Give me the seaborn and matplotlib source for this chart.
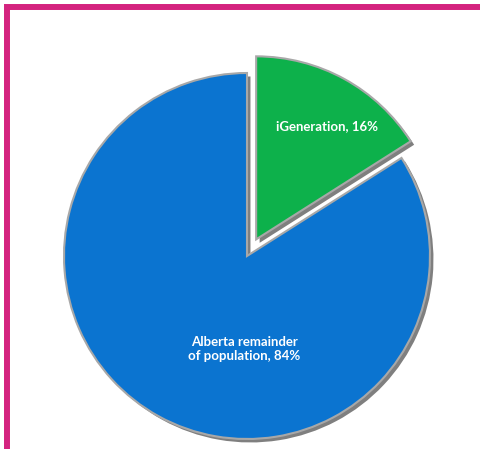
import matplotlib
matplotlib.use("Agg")
import matplotlib.pyplot as plt
import matplotlib.patheffects as pe
from matplotlib.patches import Rectangle
import seaborn as sns

categories = ["iGeneration", "Alberta remainder\nof population"]
values = [16, 84]
colors = ["#0DB14B", "#0B74D0"]

sns.set_theme(style="white")
plt.rcParams['font.family'] = ['Lato', 'DejaVu Sans']

W, H = 481, 449
fig = plt.figure(figsize=(W / 100, H / 100), dpi=100)
fig.patch.set_facecolor("white")
ax = fig.add_axes([0, 0, 1, 1])

cx, cy, R = 247, H - 256, 183
wedges, _ = ax.pie(values, colors=colors, startangle=90, counterclock=False,
                   explode=[19, 0], center=(cx, cy), radius=R,
                   wedgeprops=dict(edgecolor="#a8a8a8", linewidth=1.5))
for w in wedges:
    w.set_path_effects([pe.SimplePatchShadow(offset=(2.5, -2.5), shadow_rgbFace="black", alpha=0.5),
                        pe.Normal()])

ax.set_xlim(0, W)
ax.set_ylim(0, H)
ax.set_aspect("equal")
ax.axis("off")

labels = [f"{c}, {v}%" for c, v in zip(categories, values)]
ax.text(cx + 80, cy + 130, labels[0], color="white", fontsize=9.5, fontweight="bold",
        ha="center", va="center")
ax.text(cx - 3, cy - 93, labels[1], color="white", fontsize=9.5, fontweight="bold",
        ha="center", va="center", linespacing=1.3)

fig.patches.append(Rectangle((7.5 / W, (H - 460) / H), (490 - 7.5) / W, (460 - 7.5) / H,
                             transform=fig.transFigure, fill=False,
                             edgecolor="#D4237F", linewidth=4.3, figure=fig))

fig.savefig("out.png", dpi=100)
